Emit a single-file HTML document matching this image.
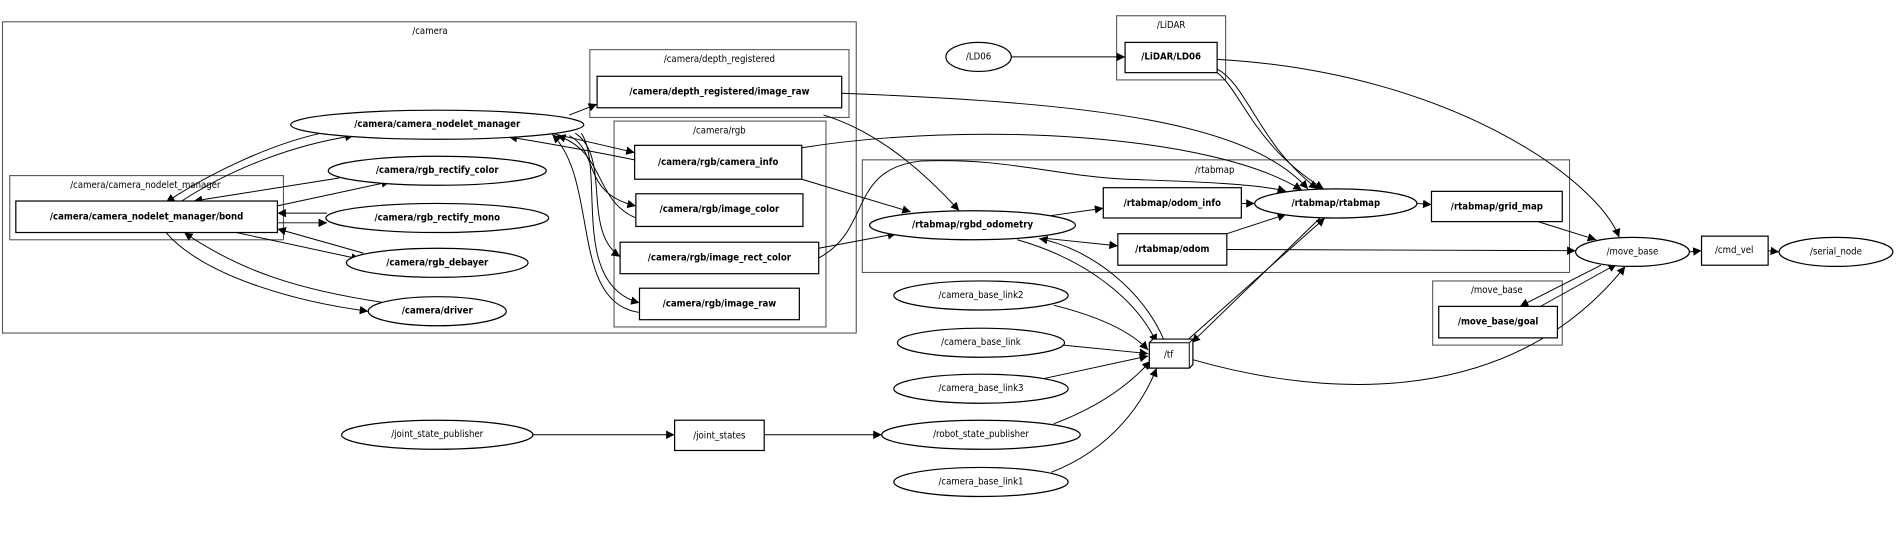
<!DOCTYPE html>
<html><head><meta charset="utf-8"><style>
html,body{margin:0;padding:0;background:#fff;}
svg{display:block}
text{font-family:"DejaVu Sans Condensed","Liberation Sans",sans-serif;font-size:7.9px;fill:#000;text-anchor:middle;dominant-baseline:central}
.b{font-weight:bold}
.e{fill:none;stroke:#000;stroke-width:0.8}
.n{fill:#fff;stroke:#000;stroke-width:1}
.c{fill:none;stroke:#555;stroke-width:0.9}
</style></head><body>
<svg width="1899" height="551" viewBox="0 0 1568 455" xmlns="http://www.w3.org/2000/svg">
<defs><marker id="a" viewBox="0 0 10 10" refX="10" refY="5" markerWidth="7" markerHeight="7" orient="auto" markerUnits="userSpaceOnUse"><path d="M0,0 L10,5 L0,10 z" fill="#000"/></marker></defs>
<rect width="1568" height="455" fill="#fff"/>
<rect class="c" x="2" y="18" width="705" height="257"/><text x="355" y="26">/camera</text>
<rect class="c" x="487" y="41" width="214" height="56"/><text x="594" y="49">/camera/depth_registered</text>
<rect class="c" x="507" y="100" width="175" height="170"/><text x="594" y="108">/camera/rgb</text>
<rect class="c" x="8" y="145" width="226" height="53"/><text x="120" y="153">/camera/camera_nodelet_manager</text>
<rect class="c" x="922" y="13" width="90" height="53"/><text x="967" y="21">/LiDAR</text>
<rect class="c" x="712" y="132" width="584" height="93"/><text x="1003" y="141">/rtabmap</text>
<rect class="c" x="1183" y="232" width="107" height="53"/><text x="1236" y="240">/move_base</text>
<g class="e" marker-end="url(#a)">
<path d="M470,95 L493,86"/>
<path d="M455,110 L524,126"/>
<path d="M524,132 C490,125 450,118 420,113"/>
<path d="M470,112 C495,125 480,160 525,170"/>
<path d="M525,180 C490,165 500,125 460,112"/>
<path d="M475,110 C505,130 480,190 512,212"/>
<path d="M480,110 C500,140 470,235 528,250"/>
<path d="M528,258 C470,250 495,150 456,111"/>
<path d="M680,95 C730,110 770,150 792,174"/>
<path d="M695,77 C900,85 1030,100 1080,156"/>
<path d="M662,122 C800,100 1000,110 1075,157"/>
<path d="M662,148 L752,175"/>
<path d="M676,205 L740,193"/>
<path d="M676,213 C720,190 700,140 760,133 C830,130 870,145 930,148 C990,150 1040,152 1062,158"/>
<path d="M835,47 L929,47"/>
<path d="M1005,57 C1030,70 1040,120 1088,156"/>
<path d="M1005,60 C1025,75 1035,120 1093,156"/>
<path d="M1005,49 C1200,60 1320,150 1337,196"/>
<path d="M868,178 L911,172"/>
<path d="M865,197 L923,203"/>
<path d="M1025,168 L1036,168"/>
<path d="M1013,193 L1062,177"/>
<path d="M1170,168 L1182,169"/>
<path d="M1270,183 L1318,198"/>
<path d="M1013,206 L1301,207"/>
<path d="M1395,208 L1405,207"/>
<path d="M1460,207 L1469,208"/>
<path d="M1322,219 L1255,253"/>
<path d="M1272,253 L1335,218"/>
<path d="M840,198 C900,215 940,250 955,283"/>
<path d="M962,283 C945,240 900,205 858,197"/>
<path d="M978,283 L1094,180"/>
<path d="M1090,180 L984,283"/>
<path d="M870,252 C910,262 935,275 948,289"/>
<path d="M878,285 L948,292"/>
<path d="M860,313 L948,294"/>
<path d="M870,350 C910,335 935,315 950,298"/>
<path d="M868,390 C920,370 945,330 955,304"/>
<path d="M985,297 C1100,330 1250,335 1342,220"/>
<path d="M440,359 L557,359"/>
<path d="M631,359 L728,359"/>
<path d="M265,110 C220,120 170,145 137,167"/>
<path d="M150,166 C190,140 240,120 292,112"/>
<path d="M280,147 L160,166"/>
<path d="M229,170 L322,150"/>
<path d="M270,176 L229,176"/>
<path d="M229,184 L270,184"/>
<path d="M300,209 L229,189"/>
<path d="M195,192 L297,214"/>
<path d="M318,250 C250,240 200,225 152,192"/>
<path d="M137,192 C170,230 250,250 304,257"/>
</g>
<g>
<rect class="n" x="493" y="63" width="202" height="26"/><text class="b" x="594" y="76">/camera/depth_registered/image_raw</text>
<rect class="n" x="524" y="120" width="138" height="28"/><text class="b" x="593" y="134">/camera/rgb/camera_info</text>
<rect class="n" x="525" y="160" width="138" height="27"/><text class="b" x="594" y="173">/camera/rgb/image_color</text>
<rect class="n" x="512" y="200" width="164" height="26"/><text class="b" x="594" y="213">/camera/rgb/image_rect_color</text>
<rect class="n" x="528" y="238" width="132" height="26"/><text class="b" x="594" y="251">/camera/rgb/image_raw</text>
<rect class="n" x="13" y="166" width="216" height="26"/><text class="b" x="121" y="179">/camera/camera_nodelet_manager/bond</text>
<ellipse class="n" cx="361" cy="103" rx="121" ry="12"/><text class="b" x="361" y="103">/camera/camera_nodelet_manager</text>
<ellipse class="n" cx="361" cy="141" rx="90" ry="12"/><text class="b" x="361" y="141">/camera/rgb_rectify_color</text>
<ellipse class="n" cx="361" cy="180" rx="92" ry="12"/><text class="b" x="361" y="180">/camera/rgb_rectify_mono</text>
<ellipse class="n" cx="361" cy="217" rx="75" ry="12"/><text class="b" x="361" y="217">/camera/rgb_debayer</text>
<ellipse class="n" cx="361" cy="257" rx="57" ry="12"/><text class="b" x="361" y="257">/camera/driver</text>
<rect class="n" x="929" y="35" width="76" height="25"/><text class="b" x="967" y="47">/LiDAR/LD06</text>
<ellipse class="n" cx="808" cy="47" rx="27" ry="12"/><text x="808" y="47">/LD06</text>
<ellipse class="n" cx="803" cy="186" rx="85" ry="12"/><text class="b" x="803" y="186">/rtabmap/rgbd_odometry</text>
<rect class="n" x="911" y="155" width="114" height="25"/><text class="b" x="968" y="168">/rtabmap/odom_info</text>
<rect class="n" x="923" y="193" width="90" height="26"/><text class="b" x="968" y="206">/rtabmap/odom</text>
<ellipse class="n" cx="1103" cy="168" rx="67" ry="12"/><text class="b" x="1103" y="168">/rtabmap/rtabmap</text>
<rect class="n" x="1182" y="158" width="108" height="25"/><text class="b" x="1236" y="171">/rtabmap/grid_map</text>
<ellipse class="n" cx="1348" cy="208" rx="47" ry="12"/><text x="1348" y="208">/move_base</text>
<rect class="n" x="1405" y="195" width="55" height="24"/><text x="1432" y="207">/cmd_vel</text>
<ellipse class="n" cx="1516" cy="208" rx="47" ry="12"/><text x="1516" y="208">/serial_node</text>
<rect class="n" x="1188" y="253" width="98" height="26"/><text class="b" x="1237" y="266">/move_base/goal</text>
<ellipse class="n" cx="810" cy="244" rx="72" ry="12"/><text x="810" y="244">/camera_base_link2</text>
<ellipse class="n" cx="810" cy="283" rx="69" ry="12"/><text x="810" y="283">/camera_base_link</text>
<ellipse class="n" cx="810" cy="321" rx="72" ry="12"/><text x="810" y="321">/camera_base_link3</text>
<ellipse class="n" cx="810" cy="359" rx="82" ry="12"/><text x="810" y="359">/robot_state_publisher</text>
<ellipse class="n" cx="810" cy="398" rx="72" ry="12"/><text x="810" y="398">/camera_base_link1</text>
<path class="n" d="M952,280 L985,280 L985,301 L982,304 L949,304 L949,283 Z"/>
<path d="M949,283 L982,283 L985,280 M982,283 L982,304" fill="none" stroke="#000" stroke-width="0.8"/>
<text x="965" y="293">/tf</text>
<ellipse class="n" cx="361" cy="359" rx="79" ry="12"/><text x="361" y="359">/joint_state_publisher</text>
<rect class="n" x="557" y="347" width="74" height="25"/><text x="594" y="360">/joint_states</text>
</g>
</svg>
</body></html>
